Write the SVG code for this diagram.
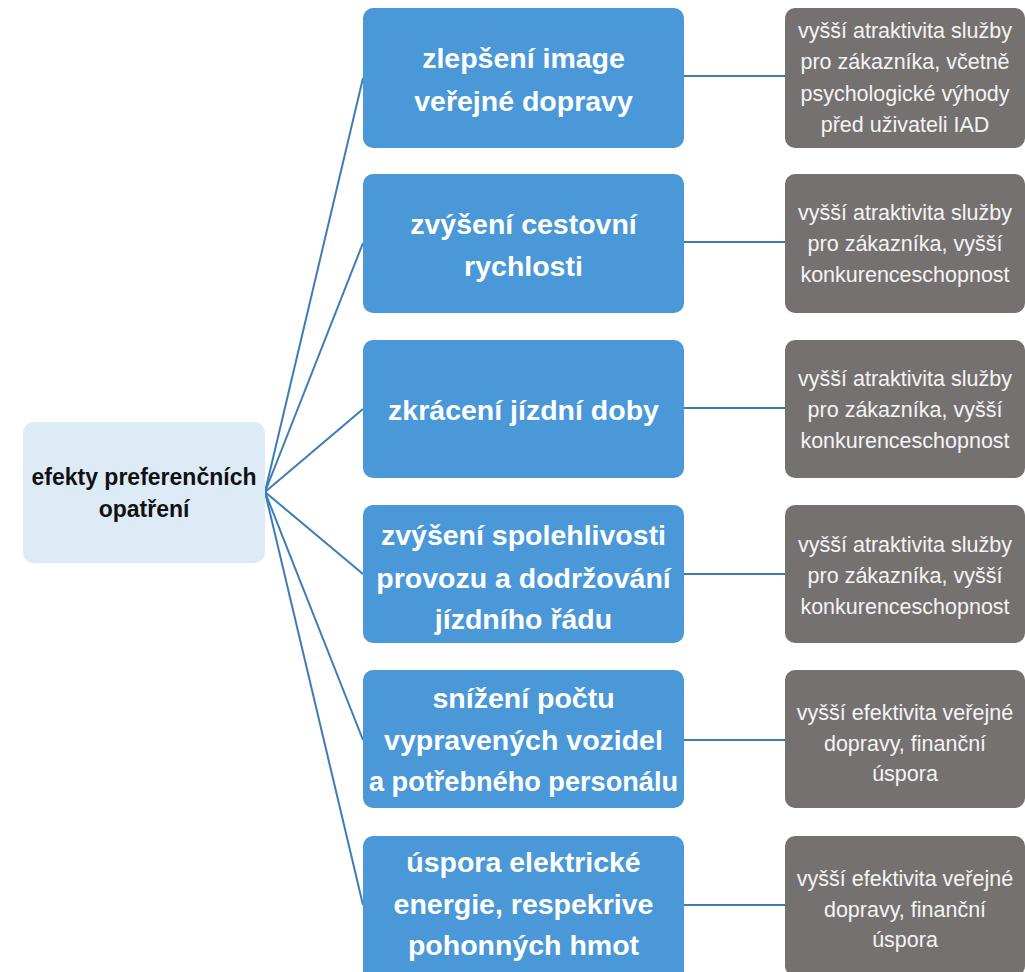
<svg xmlns="http://www.w3.org/2000/svg" width="1025" height="972" viewBox="0 0 1025 972">
<style>
.root{fill:#DDEBF7}
.blue{fill:#4A98D8}
.gray{fill:#767171}
.rt{font-family:"Liberation Sans",Arial,sans-serif;font-weight:bold;font-size:23px;fill:#111;text-anchor:middle}
.bt{font-family:"Liberation Sans",Arial,sans-serif;font-weight:bold;font-size:28.5px;fill:#fff;text-anchor:middle}
.gt{font-family:"Liberation Sans",Arial,sans-serif;font-size:21.5px;fill:#f4f4f4;text-anchor:middle}
.conn line{stroke:#3E7CB6;stroke-width:2;fill:none}
</style>
<rect width="1025" height="972" fill="#fff"/>
<g id="connectors" class="conn">
<line x1="265" y1="492" x2="363" y2="78"/>
<line x1="265" y1="492" x2="363" y2="243"/>
<line x1="265" y1="492" x2="363" y2="409"/>
<line x1="265" y1="492" x2="363" y2="574"/>
<line x1="265" y1="492" x2="363" y2="740"/>
<line x1="265" y1="492" x2="363" y2="905"/>
<line x1="684" y1="76" x2="785" y2="76"/>
<line x1="684" y1="242" x2="785" y2="242"/>
<line x1="684" y1="408" x2="785" y2="408"/>
<line x1="684" y1="574" x2="785" y2="574"/>
<line x1="684" y1="740" x2="785" y2="740"/>
<line x1="684" y1="905" x2="785" y2="905"/>
</g>
<g id="root">
<rect class="root" x="23" y="422" width="242" height="141" rx="11"/>
<text class="rt" x="144" y="485">efekty preferenčních</text>
<text class="rt" x="144" y="517">opatření</text>
</g>
<g id="b1">
<rect class="blue" x="363" y="8" width="321" height="140" rx="10"/>
<text class="bt" x="523.5" y="68">zlepšení image</text>
<text class="bt" x="523.5" y="111">veřejné dopravy</text>
</g>
<g id="g1">
<rect class="gray" x="785" y="8" width="240" height="140" rx="10"/>
<text class="gt" x="905" y="38">vyšší atraktivita služby</text>
<text class="gt" x="905" y="69">pro zákazníka, včetně</text>
<text class="gt" x="905" y="101">psychologické výhody</text>
<text class="gt" x="905" y="132">před uživateli IAD</text>
</g>
<g id="b2">
<rect class="blue" x="363" y="174" width="321" height="139" rx="10"/>
<text class="bt" x="523.5" y="234">zvýšení cestovní</text>
<text class="bt" x="523.5" y="276">rychlosti</text>
</g>
<g id="g2">
<rect class="gray" x="785" y="174" width="240" height="139" rx="10"/>
<text class="gt" x="905" y="220">vyšší atraktivita služby</text>
<text class="gt" x="905" y="251">pro zákazníka, vyšší</text>
<text class="gt" x="905" y="282">konkurenceschopnost</text>
</g>
<g id="b3">
<rect class="blue" x="363" y="340" width="321" height="138" rx="10"/>
<text class="bt" x="523.5" y="420">zkrácení jízdní doby</text>
</g>
<g id="g3">
<rect class="gray" x="785" y="340" width="240" height="138" rx="10"/>
<text class="gt" x="905" y="386">vyšší atraktivita služby</text>
<text class="gt" x="905" y="417">pro zákazníka, vyšší</text>
<text class="gt" x="905" y="448">konkurenceschopnost</text>
</g>
<g id="b4">
<rect class="blue" x="363" y="505" width="321" height="138" rx="10"/>
<text class="bt" x="523.5" y="545">zvýšení spolehlivosti</text>
<text class="bt" x="523.5" y="588">provozu a dodržování</text>
<text class="bt" x="523.5" y="629">jízdního řádu</text>
</g>
<g id="g4">
<rect class="gray" x="785" y="505" width="240" height="138" rx="10"/>
<text class="gt" x="905" y="552">vyšší atraktivita služby</text>
<text class="gt" x="905" y="583">pro zákazníka, vyšší</text>
<text class="gt" x="905" y="614">konkurenceschopnost</text>
</g>
<g id="b5">
<rect class="blue" x="363" y="670" width="321" height="138" rx="10"/>
<text class="bt" x="523.5" y="708">snížení počtu</text>
<text class="bt" x="523.5" y="750">vypravených vozidel</text>
<text class="bt" x="523.5" y="791" textLength="309" lengthAdjust="spacingAndGlyphs">a potřebného personálu</text>
</g>
<g id="g5">
<rect class="gray" x="785" y="670" width="240" height="138" rx="10"/>
<text class="gt" x="905" y="720">vyšší efektivita veřejné</text>
<text class="gt" x="905" y="751">dopravy, finanční</text>
<text class="gt" x="905" y="781">úspora</text>
</g>
<g id="b6">
<rect class="blue" x="363" y="836" width="321" height="145" rx="10"/>
<text class="bt" x="523.5" y="872">úspora elektrické</text>
<text class="bt" x="523.5" y="914">energie, respekrive</text>
<text class="bt" x="523.5" y="955">pohonných hmot</text>
</g>
<g id="g6">
<rect class="gray" x="785" y="836" width="240" height="140" rx="10"/>
<text class="gt" x="905" y="886">vyšší efektivita veřejné</text>
<text class="gt" x="905" y="917">dopravy, finanční</text>
<text class="gt" x="905" y="947">úspora</text>
</g>
</svg>
